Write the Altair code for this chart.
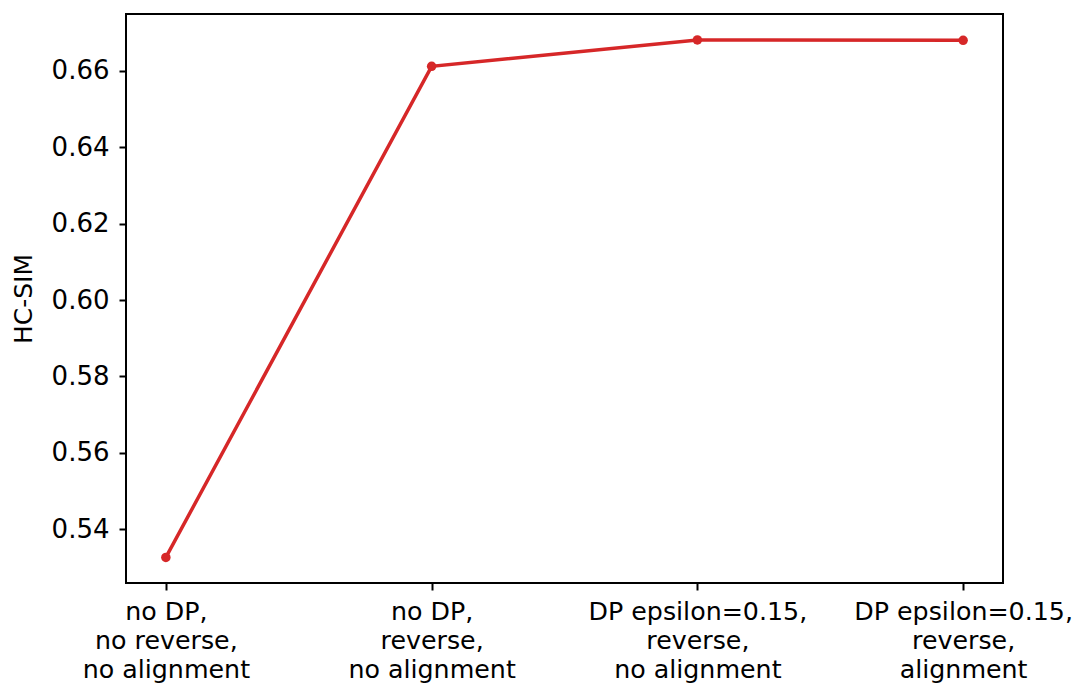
import altair as alt
import pandas as pd

categories = [
    "no DP,\nno reverse,\nno alignment",
    "no DP,\nreverse,\nno alignment",
    "DP epsilon=0.15,\nreverse,\nno alignment",
    "DP epsilon=0.15,\nreverse,\nalignment",
]
hc_sim = [0.5326, 0.6612, 0.6681, 0.6680]
y_ticks = [0.54, 0.56, 0.58, 0.60, 0.62, 0.64, 0.66]

df = pd.DataFrame({"setting": categories, "hc_sim": hc_sim})

FONT = "DejaVu Sans"
RED = "#d62728"

x = alt.X(
    "setting:N",
    sort=categories,
    scale=alt.Scale(type="point", padding=0.15),
    axis=alt.Axis(
        title=None,
        labelAngle=0,
        labelExpr="split(datum.label, '\\n')",
        labelFont=FONT,
        labelFontSize=25.3,
        labelColor="black",
        labelLineHeight=29,
        labelPadding=9,
        labelBaseline="top",
        labelLimit=0,
        tickSize=7,
        tickWidth=2,
        tickColor="black",
        domain=False,
        grid=False,
    ),
)
y = alt.Y(
    "hc_sim:Q",
    scale=alt.Scale(domain=[0.5259, 0.6749], nice=False, zero=False),
    axis=alt.Axis(
        title="HC-SIM",
        titleFont=FONT,
        titleFontSize=25,
        titleFontWeight="normal",
        titleColor="black",
        titlePadding=15,
        values=y_ticks,
        format=".2f",
        labelFont=FONT,
        labelFontSize=26,
        labelColor="black",
        labelPadding=10,
        tickSize=7,
        tickWidth=2,
        tickColor="black",
        domain=False,
        grid=False,
    ),
)

base = alt.Chart(df)
line = base.mark_line(color=RED, strokeWidth=3.5).encode(x=x, y=y)
pts = base.mark_circle(color=RED, size=90, opacity=1).encode(x=x, y=y)

chart = (
    alt.layer(line, pts)
    .properties(
        width=877,
        height=569,
        background="white",
        autosize=alt.AutoSizeParams(type="none"),
        padding={"left": 118, "top": 6, "right": 70, "bottom": 100},
    )
    .configure_view(stroke="black", strokeWidth=2)
)

chart.save("out.html", embed_options={"renderer": "svg", "actions": False})
